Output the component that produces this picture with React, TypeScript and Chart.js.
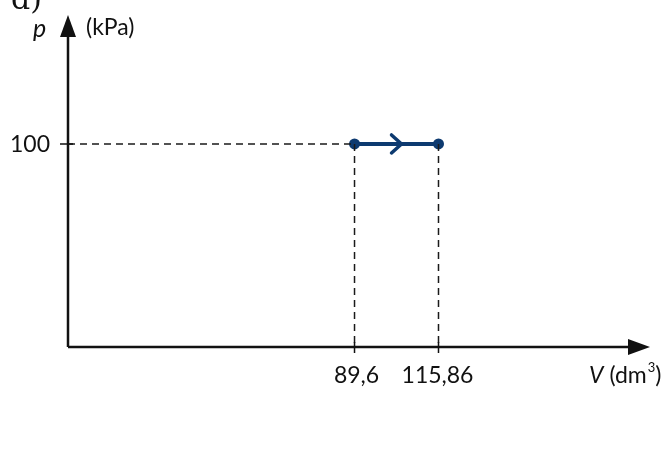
import React, { useEffect, useRef } from "react";
import { Chart, registerables } from "chart.js";

Chart.register(...registerables);

const volumes = [89.6, 115.86];
const pressures = [100, 100];
const volumeLabels = ["89,6", "115,86"];
const pressureLabels = ["100"];
const pressureTicks = [100];
const xMax = 182;
const yMax = 163.5;

const FONT = "Lato, 'Open Sans', sans-serif";

const drawPlugin = {
  id: "schematic",
  afterDatasetsDraw(chart: any) {
    const { ctx, chartArea, scales } = chart;
    const xs = scales.x;
    const ys = scales.y;
    const x0 = xs.getPixelForValue(0);
    const y0 = ys.getPixelForValue(0);
    const ink = "#111";
    ctx.save();
    // dashed guide lines
    ctx.strokeStyle = "#1a1a1a";
    ctx.lineWidth = 1.5;
    ctx.setLineDash([7, 5]);
    const py = ys.getPixelForValue(pressures[0]);
    ctx.beginPath();
    ctx.moveTo(x0, py);
    ctx.lineTo(xs.getPixelForValue(volumes[0]), py);
    ctx.stroke();
    volumes.forEach((v, i) => {
      const px = xs.getPixelForValue(v);
      ctx.beginPath();
      ctx.moveTo(px, ys.getPixelForValue(pressures[i]));
      ctx.lineTo(px, y0);
      ctx.stroke();
    });
    ctx.setLineDash([]);
    // axes
    ctx.strokeStyle = ink;
    ctx.fillStyle = ink;
    ctx.lineWidth = 2.5;
    ctx.beginPath();
    ctx.moveTo(x0, y0);
    ctx.lineTo(chartArea.right - 14, y0);
    ctx.moveTo(x0, y0);
    ctx.lineTo(x0, chartArea.top + 14);
    ctx.stroke();
    // arrowheads
    ctx.beginPath();
    ctx.moveTo(chartArea.right, y0);
    ctx.lineTo(chartArea.right - 22, y0 - 8);
    ctx.lineTo(chartArea.right - 22, y0 + 8);
    ctx.closePath();
    ctx.fill();
    ctx.beginPath();
    ctx.moveTo(x0, chartArea.top);
    ctx.lineTo(x0 - 8, chartArea.top + 22);
    ctx.lineTo(x0 + 8, chartArea.top + 22);
    ctx.closePath();
    ctx.fill();
    // ticks
    ctx.lineWidth = 1.5;
    ctx.beginPath();
    volumes.forEach((v) => {
      const px = xs.getPixelForValue(v);
      ctx.moveTo(px, y0 - 5);
      ctx.lineTo(px, y0 + 6);
    });
    pressureTicks.forEach((p) => {
      const yy = ys.getPixelForValue(p);
      ctx.moveTo(x0 - 8, yy);
      ctx.lineTo(x0 + 5, yy);
    });
    ctx.stroke();
    // direction arrow (chevron)
    const ax = (xs.getPixelForValue(volumes[0]) + xs.getPixelForValue(volumes[1])) / 2 + 4;
    ctx.strokeStyle = "#0d3a70";
    ctx.lineWidth = 3.5;
    ctx.lineCap = "round";
    ctx.beginPath();
    ctx.moveTo(ax - 9, py - 9);
    ctx.lineTo(ax + 1, py);
    ctx.lineTo(ax - 9, py + 9);
    ctx.stroke();
    // texts
    ctx.fillStyle = ink;
    ctx.font = `23px ${FONT}`;
    ctx.textBaseline = "alphabetic";
    ctx.textAlign = "right";
    pressureTicks.forEach((p, i) => {
      ctx.fillText(pressureLabels[i], x0 - 18, ys.getPixelForValue(p) + 8);
    });
    ctx.textAlign = "center";
    volumes.forEach((v, i) => {
      ctx.fillText(volumeLabels[i], xs.getPixelForValue(v) + (i === 0 ? 2 : -1), y0 + 36);
    });
    // x axis title: V (dm³)
    ctx.textAlign = "left";
    let tx = 589;
    const by = y0 + 36;
    ctx.font = `italic 23px ${FONT}`;
    ctx.fillText("V", tx, by);
    tx += ctx.measureText("V").width + 6;
    ctx.font = `23px ${FONT}`;
    ctx.fillText("(dm", tx, by);
    tx += ctx.measureText("(dm").width + 1;
    ctx.font = `13px ${FONT}`;
    ctx.fillText("3", tx, by - 11);
    tx += ctx.measureText("3").width;
    ctx.font = `23px ${FONT}`;
    ctx.fillText(")", tx, by);
    // y axis title
    ctx.font = `italic 25px ${FONT}`;
    ctx.fillText("p", 33, 37);
    ctx.font = `23px ${FONT}`;
    ctx.fillText("(kPa)", 86, 35);
    ctx.font = "30px 'DejaVu Serif', 'Liberation Serif', serif";
    ctx.fillText("d)", 11, 9);
    ctx.restore();
  },
};

export default function App() {
  const ref = useRef<HTMLCanvasElement>(null);
  useEffect(() => {
    if (!ref.current) return;
    const chart = new Chart(ref.current, {
      type: "line",
      data: {
        datasets: [
          {
            data: volumes.map((v, i) => ({ x: v, y: pressures[i] })),
            borderColor: "#0d3a70",
            backgroundColor: "#0d3a70",
            borderWidth: 4,
            pointRadius: 5.5,
            pointBackgroundColor: "#0d3a70",
            pointBorderWidth: 0,
          },
        ],
      },
      options: {
        animation: false,
        responsive: true,
        maintainAspectRatio: false,
        layout: { padding: { left: 68, right: 19, top: 15, bottom: 126 } },
        plugins: { legend: { display: false }, tooltip: { enabled: false } },
        scales: {
          x: { type: "linear", min: 0, max: xMax, display: false },
          y: { type: "linear", min: 0, max: yMax, display: false },
        },
      },
      plugins: [drawPlugin],
    });
    return () => chart.destroy();
  }, []);
  return (
    <div style={{ position: "absolute", left: 0, top: 0, width: 669, height: 473, background: "#fff" }}>
      <canvas ref={ref} />
    </div>
  );
}
